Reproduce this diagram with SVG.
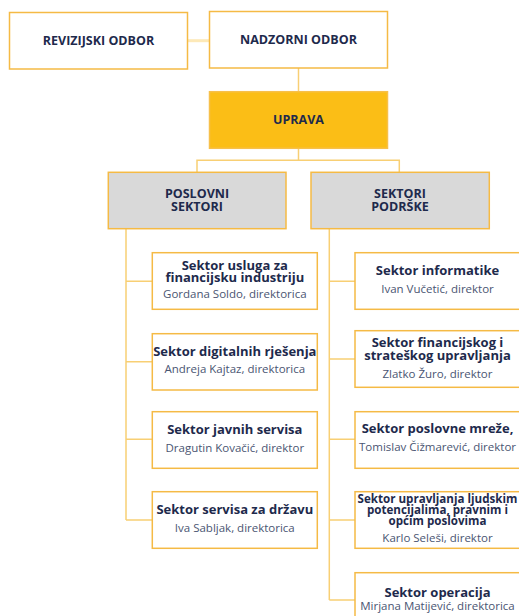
<svg xmlns="http://www.w3.org/2000/svg" width="519" height="616" viewBox="0 0 519 616">
<style>
.box{fill:#ffffff;stroke:#F5BA45;stroke-width:1.5}
.gray{fill:#D9D9D9;stroke:#F5BA45;stroke-width:1.5}
.gold{fill:#FBBE16;stroke:#F7C04A;stroke-width:1.5}
.ln{fill:none;stroke:#F8CF74;stroke-width:1.5}
.hd{font-family:"Open Sans","DejaVu Sans",sans-serif;font-weight:700;font-size:12.5px;fill:#1E2A4C;text-anchor:middle}
.t{font-family:"Open Sans","DejaVu Sans",sans-serif;font-weight:700;font-size:13px;fill:#1E2A4C;text-anchor:middle}
.t2{font-family:"Open Sans","DejaVu Sans",sans-serif;font-weight:700;font-size:11.6px;fill:#1E2A4C;text-anchor:middle}
.n{font-family:"Open Sans","DejaVu Sans",sans-serif;font-weight:400;font-size:11.5px;fill:#4A5572;text-anchor:middle}
</style>
<g id="connectors">
<line x1="187.5" y1="40.7" x2="209.5" y2="40.7" style="stroke:#FDE9B8;stroke-width:3"/>
<path class="ln" d="M298.5 68V91.7"/>
<path class="ln" d="M298.5 148.3V160.3M197 172.3V160.3H399.3V172.3"/>
<path class="ln" d="M126 228.7V520M126 281.3H152.3M126 361.7H152.3M126 439.3H152.3M126 520H152.3"/>
<path class="ln" d="M329.3 228.7V600M329.3 281.3H355M329.3 359H355M329.3 439.3H355M329.3 520H355M329.3 600H355"/>
</g>
<g id="revizijski"><rect class="box" x="9.5" y="12.5" width="178" height="56.5"/><text class="hd" x="98.5" y="44.5">REVIZIJSKI ODBOR</text></g>
<g id="nadzorni"><rect class="box" x="209.5" y="11.5" width="178" height="56.5"/><text class="hd" x="298.5" y="43.7">NADZORNI ODBOR</text></g>
<g id="uprava"><rect class="gold" x="209.5" y="91.7" width="178" height="56.6"/><text class="hd" x="298.5" y="123.7">UPRAVA</text></g>
<g id="poslovni"><rect class="gray" x="108.3" y="172.3" width="177.7" height="56.4"/><text class="hd" x="197" y="198">POSLOVNI</text><text class="hd" x="197" y="211.3">SEKTORI</text></g>
<g id="podrske"><rect class="gray" x="311" y="172.3" width="178.3" height="56.4"/><text class="hd" x="400" y="198">SEKTORI</text><text class="hd" x="400" y="211.3">PODRŠKE</text></g>
<g id="l1"><rect class="box" x="152.3" y="252.7" width="165" height="56.6"/><text class="t" x="234.8" y="270">Sektor usluga za</text><text class="t" x="234.8" y="282.3">financijsku industriju</text><text class="n" x="234.8" y="297.7">Gordana Soldo, direktorica</text></g>
<g id="l2"><rect class="box" x="152.3" y="333.7" width="165" height="56.3"/><text class="t" x="234.8" y="355.7">Sektor digitalnih rješenja</text><text class="n" x="234.8" y="372.7">Andreja Kajtaz, direktorica</text></g>
<g id="l3"><rect class="box" x="152.3" y="411.7" width="165" height="56.6"/><text class="t" x="234.8" y="434">Sektor javnih servisa</text><text class="n" x="234.8" y="451.7">Dragutin Kovačić, direktor</text></g>
<g id="l4"><rect class="box" x="152.3" y="491.7" width="165" height="56.6"/><text class="t" x="234.8" y="514.3">Sektor servisa za državu</text><text class="n" x="234.8" y="531.7">Iva Sabljak, direktorica</text></g>
<g id="r1"><rect class="box" x="355" y="252.7" width="165" height="56.6"/><text class="t" x="437.5" y="275">Sektor informatike</text><text class="n" x="437.5" y="293.3">Ivan Vučetić, direktor</text></g>
<g id="r2"><rect class="box" x="355" y="330.7" width="165" height="56.6"/><text class="t" x="437.5" y="347.3">Sektor financijskog i</text><text class="t" x="437.5" y="360">strateškog upravljanja</text><text class="n" x="437.5" y="377.7">Zlatko Žuro, direktor</text></g>
<g id="r3"><rect class="box" x="355" y="411.7" width="165" height="56.6"/><text class="t" x="437.5" y="433.3">Sektor poslovne mreže,</text><text class="n" x="437.5" y="451">Tomislav Čižmarević, direktor</text></g>
<g id="r4"><rect class="box" x="355" y="491.7" width="165" height="56.6"/><text class="t2" x="437.5" y="503.3">Sektor upravljanja ljudskim</text><text class="t2" x="437.5" y="514.3">potencijalima, pravnim i</text><text class="t2" x="437.5" y="525">općim poslovima</text><text class="n" x="437.5" y="541.7">Karlo Seleši, direktor</text></g>
<g id="r5"><rect class="box" x="355" y="572.7" width="165" height="56.6"/><text class="t" x="437.5" y="596.7">Sektor operacija</text><text class="n" x="437.5" y="610">Mirjana Matijević, direktorica</text></g>
</svg>
